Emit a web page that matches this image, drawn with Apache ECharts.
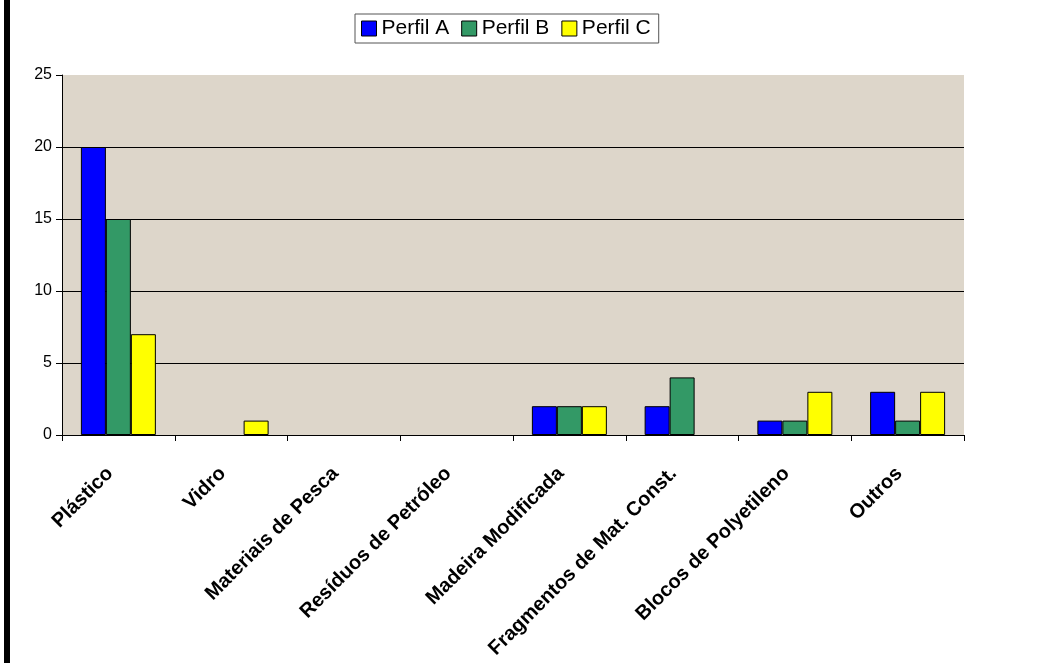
<!DOCTYPE html>
<html><head><meta charset="utf-8">
<script src="https://cdn.jsdelivr.net/npm/echarts@6/dist/echarts.min.js"></script>
<style>html,body{margin:0;padding:0;background:#fff}#c{width:1055px;height:663px}</style>
</head><body><div id="c"></div>
<script>
const categories = ['Plástico','Vidro','Materiais de Pesca','Resíduos de Petróleo','Madeira Modificada','Fragmentos de Mat. Const.','Blocos de Polyetileno','Outros'];
const perfilA = [20,0,0,0,2,2,1,3];
const perfilB = [15,0,0,0,2,4,1,1];
const perfilC = [7,1,0,0,2,0,3,3];
const seriesNames = ['Perfil A','Perfil B','Perfil C'];
const gridLines = [5,10,15,20];

const colors = ['#0000FF','#339966','#FFFF00'];
const font = 'Liberation Sans, Arial, sans-serif';
const chart = echarts.init(document.getElementById('c'));
const mk = (name, data, color) => ({
  name, type:'bar', barGap:'0%', barCategoryGap:'33.5%', z:3,
  data: data.map(v => v === 0 ? {value:v, itemStyle:{borderWidth:0, opacity:0}} : v),
  itemStyle:{color, borderColor:'#000', borderWidth:1}
});
chart.setOption({
  animation:false,
  textStyle:{fontFamily:font},
  graphic:[{type:'rect', shape:{x:4,y:0,width:6,height:663}, style:{fill:'#000'}}],
  legend:{
    data:seriesNames, left:355, top:14, orient:'horizontal',
    backgroundColor:'#fff', borderColor:'#555', borderWidth:1, padding:[4,8,4,6],
    itemWidth:15, itemHeight:15, itemGap:12,
    icon:'rect',
    itemStyle:{borderColor:'#000', borderWidth:1},
    textStyle:{fontSize:21, color:'#000', fontFamily:font}
  },
  grid:{left:62, right:91, top:75, bottom:228, show:true, backgroundColor:'#DDD6CA', borderWidth:0},
  xAxis:{
    type:'category', data:categories,
    axisLine:{lineStyle:{color:'#000', width:1}},
    axisTick:{show:true, length:6, lineStyle:{color:'#000'}},
    axisLabel:{rotate:45, fontSize:20, fontWeight:'bold', color:'#000', margin:27, padding:[0,12,0,0], fontFamily:font, interval:0}
  },
  yAxis:{
    type:'value', min:0, max:25, interval:5,
    axisLine:{show:true, lineStyle:{color:'#000'}},
    axisTick:{show:true, length:6, lineStyle:{color:'#000'}},
    axisLabel:{fontSize:16, color:'#000', margin:10, fontFamily:font},
    splitLine:{show:false}
  },
  series:[
    {type:'line', data:[], z:1, silent:true, markLine:{silent:true, symbol:'none', label:{show:false},
      lineStyle:{color:'#000', width:1, type:'solid'}, z:1,
      data:gridLines.map(v=>({yAxis:v}))}},
    mk(seriesNames[0], perfilA, colors[0]),
    mk(seriesNames[1], perfilB, colors[1]),
    mk(seriesNames[2], perfilC, colors[2])
  ]
});
</script></body></html>
